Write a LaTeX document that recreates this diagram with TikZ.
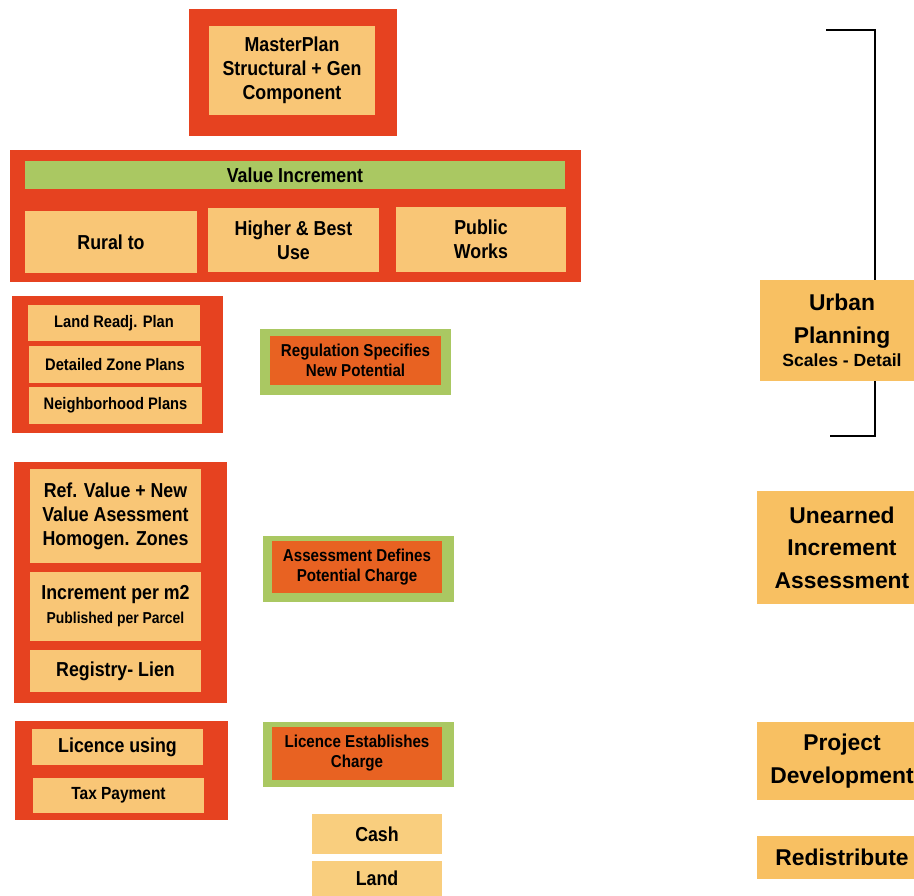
\documentclass[tikz,border=0pt]{standalone}
\usepackage{fontspec}
\setmainfont{Liberation Sans}
\newfontfamily\condfont{Liberation Sans}[FakeStretch=0.88]
\usepackage{xcolor}
\definecolor{framered}{RGB}{230,66,32}
\definecolor{boxpeach}{RGB}{249,198,118}
\definecolor{boxgreen}{RGB}{170,200,98}
\definecolor{boxorange}{RGB}{232,98,34}
\definecolor{sidebox}{RGB}{248,192,98}
\definecolor{cashbox}{RGB}{249,206,126}

\begin{document}
\begin{tikzpicture}[x=0.02cm,y=-0.02cm,
    sz/.style 2 args={minimum width=#1*0.02cm,minimum height=#2*0.02cm},
    frame/.style={fill=framered,inner sep=0pt},
    peach/.style={fill=boxpeach,inner sep=0pt,align=center,font=\condfont\bfseries\fontsize{11.5}{13.7}\selectfont},
    small/.style={font=\condfont\bfseries\fontsize{9.5}{11}\selectfont},
    greenbox/.style={fill=boxgreen,inner sep=0pt},
    orangebox/.style={fill=boxorange,inner sep=0pt,align=center,font=\condfont\bfseries\fontsize{9.8}{11.4}\selectfont},
    sidenode/.style={fill=sidebox,inner sep=0pt,align=center,font=\bfseries\fontsize{13}{18.5}\selectfont},
    bracket/.style={line width=1.5pt,black}]
    \useasboundingbox (0,0) rectangle (914,896);
    % Master plan
    \node[frame,sz={208}{127}] (masterframe) at (293,72.5) {};
    \node[peach,sz={166}{89}] (master) at (292,70) {MasterPlan\\Structural + Gen\\Component};
    % Value increment
    \node[frame,sz={571}{132}] (valueframe) at (295.5,216) {};
    \node[fill=boxgreen,inner sep=0pt,sz={540}{28},font=\condfont\bfseries\fontsize{11.5}{13.7}\selectfont] (value) at (295,175) {Value Increment};
    \node[peach,sz={172}{62}] (rural) at (111,242) {Rural to};
    \node[peach,sz={171}{64}] (higher) at (293.5,240) {Higher \& Best\\Use};
    \node[peach,sz={170}{65}] (public) at (481,239.5) {Public\\Works};
    % Plans
    \node[frame,sz={211}{137}] (plansframe) at (117.5,364.5) {};
    \node[peach,small,sz={172}{36}] (readj) at (114,323) {Land Readj. Plan};
    \node[peach,small,sz={172}{37}] (zone) at (115,364.5) {Detailed Zone Plans};
    \node[peach,small,sz={173}{37}] (neigh) at (115.5,405.5) {Neighborhood Plans};
    \node[greenbox,sz={191}{66}] (regframe) at (355.5,362) {};
    \node[orangebox,sz={171}{49}] (regulation) at (355.5,360.5) {Regulation Specifies\\New Potential};
    % Assessment
    \node[frame,sz={213}{241}] (assessframe) at (120.5,582.5) {};
    \node[peach,sz={171}{94}] (refvalue) at (115.5,516) {Ref. Value + New\\Value Asessment\\Homogen. Zones};
    \node[peach,sz={171}{69}] (perm) at (115.5,606.5) {Increment per m2\\{\fontsize{9}{10.5}\selectfont Published per Parcel}};
    \node[peach,sz={171}{42}] (registry) at (115.5,671) {Registry- Lien};
    \node[greenbox,sz={191}{66}] (assframe) at (358.5,569) {};
    \node[orangebox,sz={170}{52}] (assessment) at (357,567) {Assessment Defines\\Potential Charge};
    % Licence
    \node[frame,sz={213}{99}] (licframe) at (121.5,770.5) {};
    \node[peach,sz={171}{36}] (licusing) at (117.5,747) {Licence using};
    \node[peach,sz={171}{35},font=\condfont\bfseries\fontsize{10}{12}\selectfont] (tax) at (118.5,795.5) {Tax Payment};
    \node[greenbox,sz={191}{65}] (licgreen) at (358.5,754.5) {};
    \node[orangebox,sz={170}{53}] (licence) at (357,753.5) {Licence Establishes\\Charge};
    \node[peach,fill=cashbox,sz={130}{40}] (cash) at (377,834) {Cash};
    \node[peach,fill=cashbox,sz={130}{35}] (land) at (377,878.5) {Land};
    % Right column
    \node[sidenode,sz={164}{101}] (urban) at (842,330.5) {Urban\\Planning\\[-5pt]{\fontsize{10}{12}\selectfont Scales - Detail}};
    \node[sidenode,sz={170}{113}] (unearned) at (842,547.5) {Unearned\\Increment\\Assessment};
    \node[sidenode,sz={170}{78}] (project) at (842,761) {Project\\Development};
    \node[sidenode,sz={170}{43}] (redistribute) at (842,857.5) {Redistribute};
    % Bracket
    \coordinate (brtop) at (826,30);
    \coordinate (brbot) at (830,436);
    \coordinate (brx) at (875,0);
    \draw[bracket] (brtop) -| (urban.north -| brx);
    \draw[bracket] (brbot) -| (urban.south -| brx);
\end{tikzpicture}
\end{document}
